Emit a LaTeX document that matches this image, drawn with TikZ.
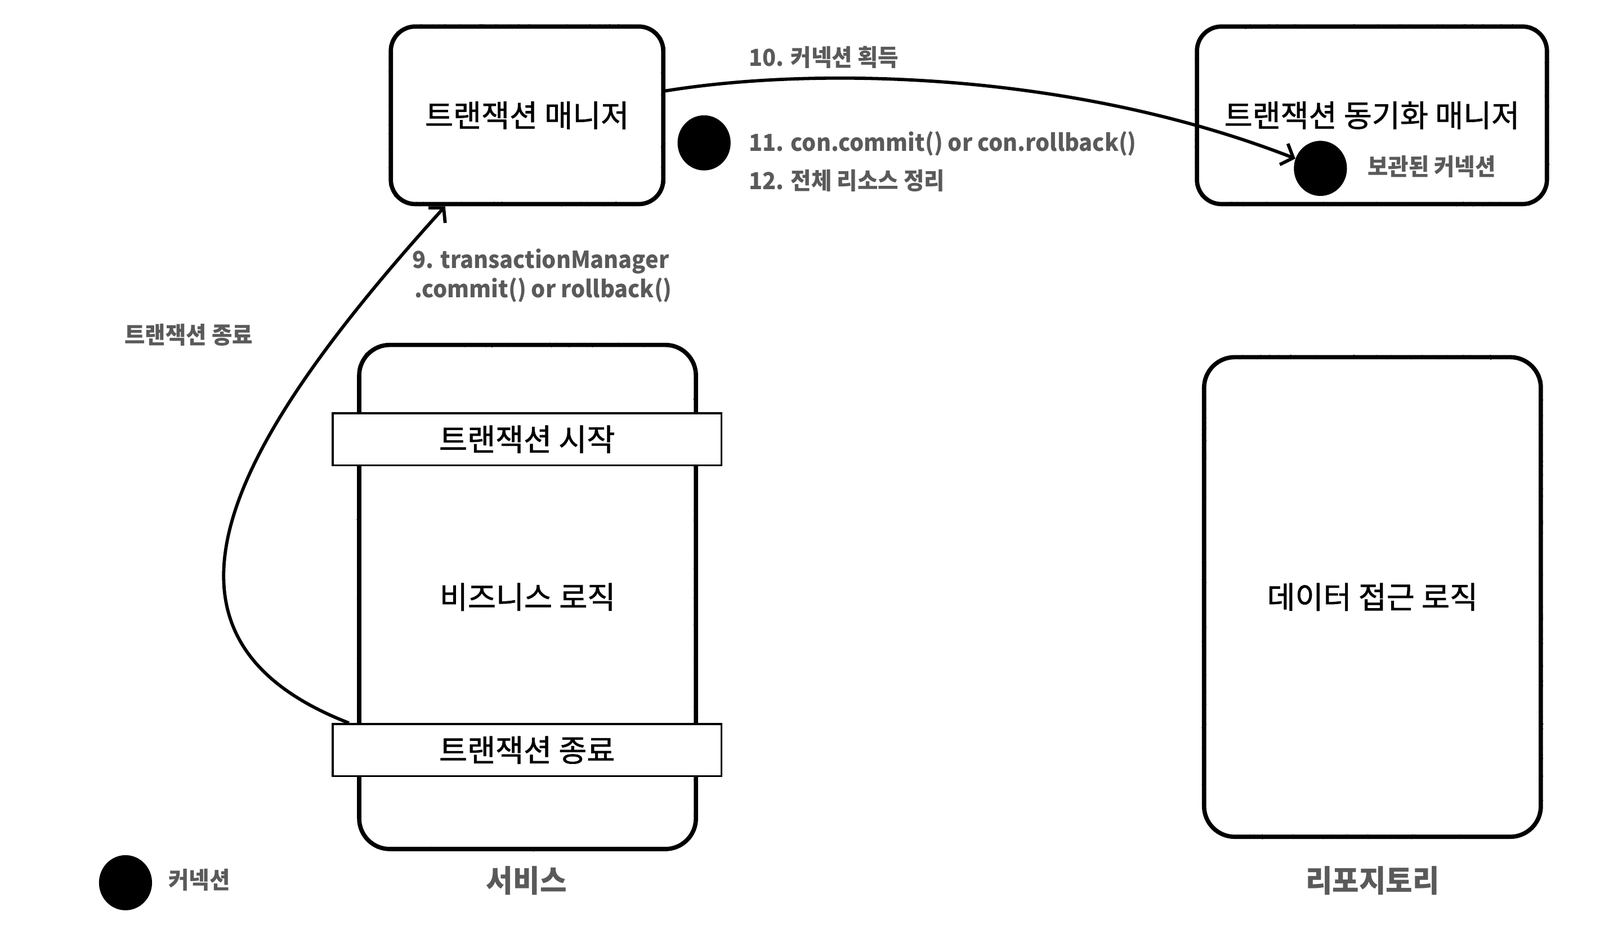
\documentclass[tikz,border=0pt]{standalone}
\usepackage{fontspec}
\setmainfont{Noto Sans CJK KR}
\newfontfamily\kr{Noto Sans CJK KR}[FakeBold=1.2]
\newfontfamily\krg{Noto Sans CJK KR}[FakeStretch=0.95]
\usetikzlibrary{arrows.meta,decorations.pathmorphing,shapes.geometric}
\definecolor{labgray}{HTML}{5A5A5A}
\begin{document}
\begin{tikzpicture}[x=1pt,y=-1pt,
  sketch/.style={draw=black, line width=4.2pt, rounded corners=24pt, inner sep=0pt,
    font=\kr\fontsize{30}{36}\selectfont,
    postaction={draw, sharp corners, line width=2.2pt, decorate,
      decoration={random steps, segment length=2pt, amplitude=1pt}}},
  bar/.style={draw=black, fill=white, line width=2pt, inner sep=0pt,
    minimum width=381pt, minimum height=51pt, font=\kr\fontsize{30}{36}\selectfont},
  dot/.style={ellipse, fill=black, minimum width=52pt, minimum height=54pt, inner sep=0pt},
  glab/.style={text=labgray, inner sep=0pt, font=\krg\bfseries\fontsize{23}{27}\selectfont},
  biglab/.style={text=labgray, inner sep=0pt, font=\krg\bfseries\fontsize{30}{36}\selectfont},
  conn/.style={line width=3.2pt, -{Straight Barb[length=10pt,width=22pt]}}
]
\fill[white] (0,0) rectangle (1568,928);
\useasboundingbox (0,0) rectangle (1568,928);

% boxes
\node[sketch, minimum width=267pt, minimum height=174pt] (tm) at (516.5,113) {트랜잭션 매니저};
\node[sketch, minimum width=343pt, minimum height=174pt] (sync) at (1344.5,113) {트랜잭션 동기화 매니저};
\node[sketch, rounded corners=30pt, minimum width=330pt, minimum height=494pt] (svc) at (517,585) {비즈니스 로직};
\node[sketch, rounded corners=30pt, minimum width=330pt, minimum height=470pt] (repo) at (1345,585) {데이터 접근 로직};

\node[bar] (startbox) at (516.5,430.5) {트랜잭션 시작};
\node[bar] (endbox) at (516.5,735) {트랜잭션 종료};

% dots
\node[dot] (tmdot) at (690,140) {};
\node[dot] (sdot) at (1294,165) {};
\node[dot] (ldot) at (123,865) {};

% labels
\node[glab, anchor=west] (l10) at (734,56) {10. 커넥션 획득};
\node[glab, anchor=west] (l11) at (734,141) {11. con.commit() or con.rollback()};
\node[glab, anchor=west] (l12) at (734,177) {12. 전체 리소스 정리};
\node[glab, anchor=west] (l9a) at (404,256) {9. transactionManager};
\node[glab, anchor=west] (l9b) at (406,284) {.commit() or rollback()};
\node[glab] (lend) at (185,328) {트랜잭션 종료};
\node[glab, anchor=west] (lkept) at (1340,163) {보관된 커넥션};
\node[glab, anchor=west] (lconn) at (165,862) {커넥션};
\node[biglab] (lsvc) at (516,863) {서비스};
\node[biglab] (lrepo) at (1345,863) {리포지토리};

% connectors
\coordinate (e9) at ([xshift=17pt]endbox.north west);
\draw[conn] (tm.10) .. controls (800,65) and (1050,70) .. (sdot);
\draw[conn] (e9) .. controls (119,622) and (230,430) .. (tm);
\end{tikzpicture}
\end{document}
